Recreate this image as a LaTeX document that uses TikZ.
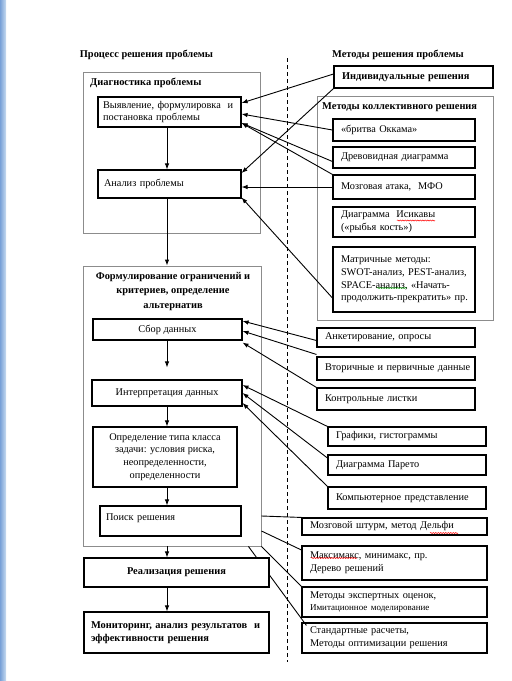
\documentclass[tikz,border=0pt]{standalone}
\usepackage{fontspec}
\setmainfont{Liberation Serif}
\usetikzlibrary{arrows.meta,decorations.pathmorphing}
\newcommand{\fs}{\fontsize{10.3}{12.8}\selectfont}
\newcommand{\fsb}{\fontsize{10.4}{12.8}\selectfont\bfseries}
\begin{document}
\begin{tikzpicture}[x=1pt,y=-1pt,
  box/.style={draw, line width=1.1pt, inner ysep=1pt, font=\fs, fill=white},
  lbox/.style={box, align=left, inner xsep=8pt},
  cbox/.style={box, align=center},
  grp/.style={draw=black!45, line width=0.9pt},
  arr/.style={-{Latex[length=6pt,width=4.5pt]}, line width=0.9pt},
  ln/.style={line width=0.9pt},
  lab/.style={font=\fsb, inner sep=0pt},
  spell/.style={decorate, decoration={snake, amplitude=0.6pt, segment length=2.5pt}, line width=0.5pt}
]
\useasboundingbox[fill=white] (0,0) rectangle (512,681);
\shade[left color={rgb,255:red,120;green,160;blue,215}, right color={rgb,255:red,200;green,220;blue,240}] (0,0) rectangle (6,681);

% ---------- titles
\node[lab] (t1) at (146.5,55) {Процесс решения проблемы};
\node[lab] (t2) at (398,55) {Методы решения проблемы};

% ---------- left groups
\node[grp, minimum width=177pt, minimum height=161pt] (diag) at (171.5,152.5) {};
\node[lab, anchor=west] (diagl) at (90,83) {Диагностика проблемы};
\node[grp, minimum width=178pt, minimum height=280pt] (form) at (172,406) {};
\node[lab, align=center, font=\fontsize{10.4}{14.5}\selectfont\bfseries] (forml) at (173,291.5)
  {Формулирование ограничений и\\критериев, определение\\альтернатив};

% ---------- right group
\node[grp, minimum width=176pt, minimum height=224pt] (koll) at (405,208) {};
\node[font=\fsb, anchor=west, inner sep=0pt] (kolll) at (322,107) {Методы коллективного решения};

% ---------- dashed separator
\draw[line width=0.9pt, dash pattern=on 4pt off 3pt] (287,58) -- (287,662);

% ---------- left boxes
\coordinate (fx) at (167,0);
\node[lbox, inner xsep=5pt, text width=133pt, minimum width=143pt, minimum height=30pt] (vyav) at (169.5,112)
  {\mbox{Выявление, формулировка\ \ и}\\постановка проблемы};
\node[lbox, inner xsep=6pt, text width=131pt, minimum width=143pt, minimum height=28pt] (anal) at (169.5,184)
  {Анализ проблемы};
\node[cbox, minimum width=149pt, minimum height=21pt] (sbor) at (167.5,329.5) {Сбор данных};
\node[cbox, minimum width=150pt, minimum height=26pt] (interp) at (167,393) {Интерпретация данных};
\node[cbox, minimum width=144pt, minimum height=60pt] (opred) at (165,457)
  {Определение типа класса\\задачи: условия риска,\\неопределенности,\\определенности};
\node[lbox, inner xsep=6pt, text width=129pt, minimum width=141pt, minimum height=30pt, text depth=8pt] (poisk) at (170.5,521)
  {Поиск решения};

% crossing line behind "Реализация"
\node[lbox, inner xsep=8pt, text width=169pt, minimum width=185pt, minimum height=30pt] (stand) at (394.5,638)
  {Стандартные расчеты,\\Методы оптимизации решения};
\draw[ln] ([xshift=-13pt]form.south east) -- ([xshift=5pt,yshift=-3pt]stand.north west);

\node[cbox, font=\fsb, minimum width=185pt, minimum height=29pt] (real) at (176.5,572.5) {Реализация решения};
\node[lbox, font=\fsb, inner xsep=7pt, text width=171pt, minimum width=185pt, minimum height=41pt] (monit) at (176.5,632.5)
  {\mbox{Мониторинг, анализ результатов\ \ и}\\эффективности решения};

% ---------- right boxes
\node[lbox, font=\fsb, text width=143pt, minimum width=159pt, minimum height=22pt] (ind) at (413.5,77) {Индивидуальные решения};
\node[lbox, text width=126pt, minimum width=142pt, minimum height=22pt] (okk) at (404,130) {«бритва Оккама»};
\node[lbox, text width=126pt, minimum width=142pt, minimum height=21pt] (drevo) at (404,157.5) {Древовидная диаграмма};
\node[lbox, text width=126pt, minimum width=142pt, minimum height=24pt] (mozg) at (404,187) {Мозговая атака,\ \ МФО};
\node[lbox, text width=126pt, minimum width=142pt, minimum height=30pt] (isik) at (404,222)
  {Диаграмма\ \ Исикавы\\(«рыбья кость»)};
\node[lbox, text width=126pt, minimum width=142pt, minimum height=65pt] (matr) at (404,279.5)
  {Матричные методы:\\\mbox{SWOT-анализ, PEST-анализ,}\\\mbox{SPACE-анализ, «Начать-}\\\mbox{продолжить-прекратить» пр.}};
\node[lbox, text width=142pt, minimum width=158pt, minimum height=19pt] (ank) at (396,337.5) {Анкетирование, опросы};
\node[lbox, text width=142pt, minimum width=158pt, minimum height=23pt] (vtor) at (396,368.5) {\mbox{Вторичные и первичные данные}};
\node[lbox, text width=142pt, minimum width=158pt, minimum height=22pt] (kontr) at (396,399) {Контрольные листки};
\node[lbox, text width=142pt, minimum width=158pt, minimum height=19pt] (graf) at (407,436.5) {Графики, гистограммы};
\node[lbox, text width=142pt, minimum width=158pt, minimum height=20pt] (pareto) at (407,465) {Диаграмма Парето};
\node[lbox, text width=142pt, minimum width=158pt, minimum height=22pt] (komp) at (407,498) {\mbox{Компьютерное представление}};
\node[lbox, text width=169pt, minimum width=185pt, minimum height=17pt] (shturm) at (394.5,526.5) {Мозговой штурм, метод Дельфи};
\node[lbox, text width=169pt, minimum width=185pt, minimum height=34pt] (maxi) at (394.5,563)
  {Максимакс, минимакс, пр.\\Дерево решений};
\node[lbox, text width=169pt, minimum width=185pt, minimum height=30pt] (expert) at (394.5,602)
  {Методы экспертных оценок,\\{\fontsize{9}{10}\selectfont Имитационное моделирование}};

% ---------- spell-check underlines
\draw[spell, red] (397,220.5) -- (435,220.5);
\draw[spell, green!60!black] (377,288) -- (407,288);
\draw[spell, red] (430,533) -- (458,533);
\draw[spell, red] (311,558) -- (357,558);

% ---------- flow arrows
\draw[arr] (vyav.south -| fx) -- (anal.north -| fx);
\draw[arr] (anal.south -| fx) -- (form.north -| fx);
\draw[arr, shorten >=12pt] (sbor.south -| fx) -- (interp.north -| fx);
\draw[arr] (interp.south -| fx) -- (opred.north -| fx);
\draw[arr] (opred.south -| fx) -- (poisk.north -| fx);
\draw[arr] (form.south -| fx) -- (real.north -| fx);
\draw[arr] (real.south -| fx) -- (monit.north -| fx);

% ---------- method connectors (top)
\draw[arr] ([yshift=3pt]ind.west) -- ([yshift=9pt]vyav.east);
\draw[arr] (ind.south west) -- ([yshift=11pt]anal.east);
\draw[arr] (okk.west) -- ([yshift=-2pt]vyav.east);
\draw[arr] ([yshift=-4pt]drevo.west) -- ([yshift=-11pt]vyav.east);
\draw[arr] (mozg.north west) -- ([yshift=-11pt]vyav.east);
\draw[arr] (mozg.west) -- ([yshift=-3pt]anal.east);
\draw[arr] ([yshift=-18.5pt]matr.west) -- ([yshift=1pt]anal.south east);

% ---------- method connectors (middle)
\draw[arr] ([yshift=-3pt]ank.west) -- ([yshift=8.5pt]sbor.east);
\draw[arr] ([yshift=2pt]vtor.north west) -- ([yshift=-1.5pt]sbor.east);
\draw[arr] (kontr.north west) -- ([yshift=-2pt]sbor.south east);
\draw[arr] (graf.north west) -- ([yshift=8pt]interp.east);
\draw[arr] ([yshift=7pt]pareto.west) -- (interp.east);
\draw[arr] (komp.north west) -- ([yshift=-10pt]interp.east);

% ---------- method connectors (bottom, no heads)
\draw[ln] ([yshift=5pt]form.east |- poisk.east) -- (shturm.north west);
\draw[ln] ([yshift=-10pt]form.east |- poisk.east) -- ([yshift=13pt]maxi.west);
\draw[ln] (form.south east) -- (expert.north west);
\end{tikzpicture}
\end{document}
